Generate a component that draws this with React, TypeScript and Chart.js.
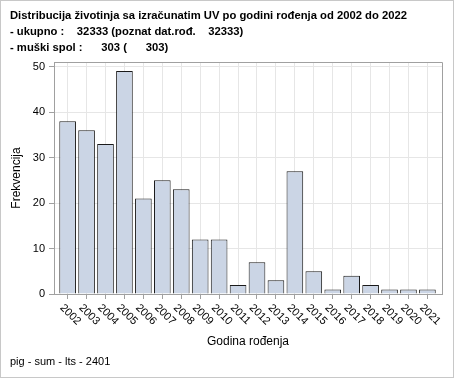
import React, { useEffect, useRef } from "react";
import { Chart, registerables } from "chart.js";

Chart.register(...registerables);

const years = ["2002","2003","2004","2005","2006","2007","2008","2009","2010","2011","2012","2013","2014","2015","2016","2017","2018","2019","2020","2021"];
const counts = [38, 36, 33, 49, 21, 25, 23, 12, 12, 2, 7, 3, 27, 5, 1, 4, 2, 1, 1, 1];
const yTicks = [0, 10, 20, 30, 40, 50];
const titleLines = [
  "Distribucija životinja sa izračunatim UV po godini rođenja od 2002 do 2022",
  "- ukupno :    32333 (poznat dat.rođ.    32333)",
  "- muški spol :      303 (      303)",
];
const footer = "pig - sum - lts - 2401";
const xTitle = "Godina rođenja";
const yTitle = "Frekvencija";

const FONT = "'Liberation Sans', Arial, sans-serif";

const decor = {
  id: "decor",
  afterDraw(chart: any) {
    const ctx = chart.ctx as CanvasRenderingContext2D;
    const a = chart.chartArea;
    const W = chart.width, H = chart.height;
    ctx.save();
    ctx.strokeStyle = "#c8c8c8";
    ctx.lineWidth = 1;
    ctx.strokeRect(0.5, 0.5, W - 1, H - 1);
    ctx.strokeStyle = "#a0a0a0";
    ctx.beginPath();
    ctx.moveTo(Math.round(a.left) + 0.5, Math.round(a.top) + 0.5);
    ctx.lineTo(Math.round(a.right) + 0.5, Math.round(a.top) + 0.5);
    ctx.lineTo(Math.round(a.right) + 0.5, Math.round(a.bottom) + 0.5);
    ctx.stroke();
    ctx.fillStyle = "#000";
    ctx.textAlign = "left";
    ctx.textBaseline = "alphabetic";
    ctx.font = `bold 11.25px ${FONT}`;
    titleLines.forEach((t, i) => ctx.fillText(t, 10, 19 + i * 16));
    ctx.font = `11px ${FONT}`;
    ctx.fillText(footer, 10, 365);
    ctx.font = `12px ${FONT}`;
    ctx.textAlign = "center";
    ctx.fillText(xTitle, (a.left + a.right) / 2, 345);
    ctx.save();
    ctx.translate(19.5, (a.top + a.bottom) / 2);
    ctx.rotate(-Math.PI / 2);
    ctx.fillText(yTitle, 0, 0);
    ctx.restore();
    const xs = chart.scales.x;
    ctx.font = `11px ${FONT}`;
    ctx.textAlign = "left";
    ctx.textBaseline = "middle";
    years.forEach((y, i) => {
      const px = xs.getPixelForValue(i);
      ctx.save();
      ctx.translate(px - 6, a.bottom + 12);
      ctx.rotate(Math.PI / 4);
      ctx.fillText(y, 0, 0);
      ctx.restore();
    });
    ctx.restore();
  },
};

export default function App() {
  const ref = useRef<HTMLCanvasElement>(null);
  useEffect(() => {
    const chart = new Chart(ref.current!, {
      type: "bar",
      data: {
        labels: years,
        datasets: [
          {
            data: counts,
            backgroundColor: "#cbd5e5",
            borderColor: "#1a1a1a",
            borderWidth: 1,
            barPercentage: 0.88,
            categoryPercentage: 1,
          },
        ],
      },
      options: {
        animation: false,
        responsive: false,
        devicePixelRatio: 1,
        layout: { padding: { left: 0, top: 62, right: 12, bottom: 0 } },
        plugins: { legend: { display: false }, title: { display: false }, tooltip: { enabled: false } },
        scales: {
          x: {
            offset: true,
            grid: { offset: false, color: "#e6e6e6", tickColor: "#a0a0a0", tickLength: 5, drawTicks: true },
            border: { color: "#a0a0a0" },
            ticks: { display: false },
            afterBuildTicks: (s: any) => { s._startValue = -0.72; s._valueRange = 20.49; },
            afterFit: (s: any) => { s.height = 84; },
          },
          y: {
            min: 0,
            max: 51,
            grid: { color: "#e6e6e6", tickColor: "#a0a0a0", tickLength: 5 },
            border: { color: "#a0a0a0" },
            ticks: { padding: 4, color: "#000", font: { family: FONT, size: 11 } },
            afterBuildTicks: (s: any) => { s.ticks = yTicks.map((v) => ({ value: v })); },
            afterFit: (s: any) => { s.width = 54; },
          },
        },
      },
      plugins: [decor],
    });
    return () => chart.destroy();
  }, []);
  return (
    <div style={{ position: "fixed", left: 0, top: 0, width: 454, height: 378, background: "#fff" }}>
      <canvas ref={ref} width={454} height={378} style={{ display: "block" }} />
    </div>
  );
}
